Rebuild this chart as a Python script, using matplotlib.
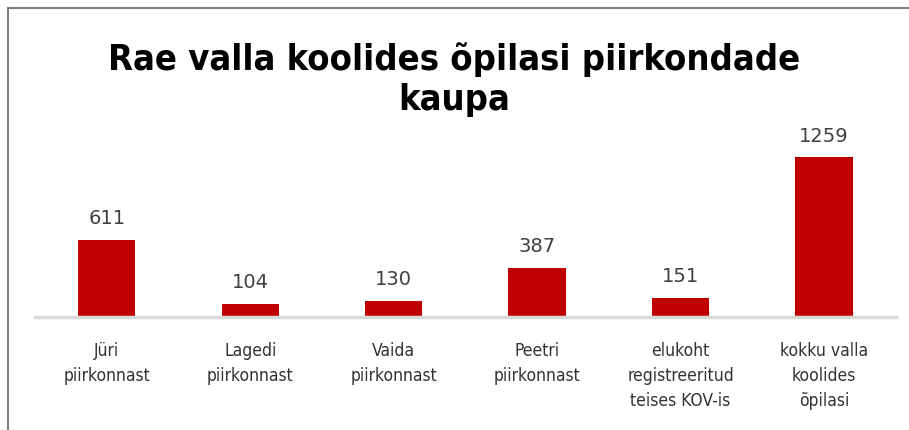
import matplotlib.pyplot as plt
from matplotlib.lines import Line2D
import numpy as np

# Data
categories = ["Jüri\npiirkonnast", "Lagedi\npiirkonnast", "Vaida\npiirkonnast",
              "Peetri\npiirkonnast", "elukoht\nregistreeritud\nteises KOV-is",
              "kokku valla\nkoolides\nõpilasi"]
values = [611, 104, 130, 387, 151, 1259]

bar_color = "#C00000"
text_color = "#404040"

fig = plt.figure(figsize=(9.09, 4.31), dpi=100)
ax = fig.add_axes([0.0385, 0.262, 0.947, 0.4826])

x = np.arange(len(categories))
bars = ax.bar(x, values, width=0.40, color=bar_color, zorder=2)

ax.set_xlim(-0.5, len(categories) - 0.5)
ax.set_ylim(0, 1640)

# value labels above bars
for xi, v in zip(x, values):
    ax.annotate(str(v), (xi, v), xytext=(0, 9), textcoords="offset points",
                ha="center", va="bottom", fontsize=14, color=text_color,
                family="DejaVu Sans")

ax.set_xticks(x)
ax.set_xticklabels(categories, family="DejaVu Sans", stretch="condensed",
                   fontsize=12.5, color="#333333", linespacing=1.5)
ax.tick_params(axis="x", length=0, pad=17)
ax.set_yticks([])

for s in ["top", "right", "left"]:
    ax.spines[s].set_visible(False)
ax.spines["bottom"].set_color("#D9D9D9")
ax.spines["bottom"].set_linewidth(2.5)

# title
fig.text(0.5, 0.815, "Rae valla koolides õpilasi piirkondade\nkaupa",
         ha="center", va="center", fontsize=26, fontweight="bold",
         family="DejaVu Sans", stretch="condensed", linespacing=1.2,
         color="black")

# chart frame (left and top edges visible)
W, H = 909, 431
fig.add_artist(Line2D([8 / W, 8 / W], [0, 1 - 9 / H], color="#808080", lw=1.5))
fig.add_artist(Line2D([8 / W, 1], [1 - 9 / H, 1 - 9 / H], color="#808080", lw=1.5))

fig.savefig("out.png", dpi=100)
